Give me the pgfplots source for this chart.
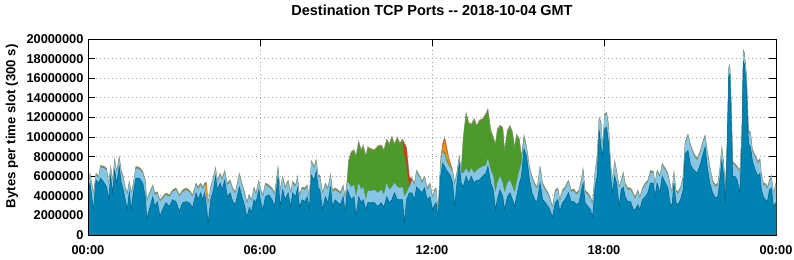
\documentclass[border=0pt]{standalone}
\usepackage{pgfplots}
\pgfplotsset{compat=1.18}
\usepackage{pgfplotstable}
\usepackage{fontspec}
\setmainfont{Liberation Sans}
\definecolor{cDark}{RGB}{0,131,178}
\definecolor{cDarkEdge}{RGB}{0,95,135}
\definecolor{cLight}{RGB}{136,196,228}
\definecolor{cGreen}{RGB}{76,154,44}
\definecolor{cOrange}{RGB}{242,142,20}
\definecolor{cRed}{RGB}{208,58,16}
\definecolor{cTop}{RGB}{135,128,70}
\definecolor{cTopLine}{RGB}{150,150,150}
\definecolor{cGrid}{RGB}{160,160,160}

% h = hour of day, D = dark blue top, L = light blue top, G = green top, T = total (millions of bytes)
\pgfplotstableread{
h D L G T
0.00 4.3 4.7 4.7 4.9
0.07 5.3 6.1 6.1 6.3
0.19 2.6 4.1 4.1 4.3
0.28 5.6 6.1 6.1 6.3
0.37 5.3 5.8 5.8 6.0
0.44 5.8 6.9 6.9 7.1
0.57 5.3 6.8 6.8 7.0
0.65 4.9 6.6 6.6 6.8
0.72 3.6 5.1 5.1 5.3
0.79 6.0 6.8 6.8 7.0
0.86 4.3 5.4 5.4 5.6
0.93 6.6 7.6 7.6 7.8
1.00 5.3 6.3 6.3 6.5
1.09 7.0 7.8 7.8 8.0
1.16 5.3 6.4 6.4 6.6
1.23 4.6 5.8 5.8 6.0
1.30 3.6 4.7 4.7 4.9
1.37 2.6 4.1 4.1 4.3
1.44 4.4 5.3 5.3 5.5
1.51 2.6 4.1 4.1 4.3
1.58 4.3 5.1 5.1 5.3
1.67 5.8 6.8 6.8 7.0
1.79 5.8 6.7 6.7 6.9
1.91 5.3 6.3 6.3 6.5
2.00 3.9 5.4 5.4 5.6
2.05 1.6 3.4 3.4 3.6
2.14 2.6 4.1 4.1 4.3
2.26 3.9 4.9 4.9 5.1
2.33 2.9 4.1 4.1 4.3
2.42 3.4 4.2 4.2 4.4
2.51 1.9 3.4 3.4 3.6
2.60 2.6 3.7 3.7 3.9
2.72 3.3 4.1 4.1 4.3
2.84 2.9 3.9 3.9 4.1
2.95 3.6 4.4 4.4 4.6
3.07 3.4 4.6 4.6 4.8
3.19 2.4 3.9 3.9 4.1
3.30 3.3 4.4 4.4 4.6
3.42 3.4 4.6 4.6 4.8
3.53 3.3 4.4 4.4 4.6
3.65 2.8 3.9 3.9 4.1
3.77 4.3 5.1 5.1 5.3
3.84 3.6 4.7 4.7 4.9
3.93 4.3 5.1 5.1 5.3
4.00 3.6 4.7 4.7 4.9
4.07 4.3 5.1 5.1 5.3
4.13 3.0 3.8 3.8 5.4
4.19 1.2 3.1 3.1 3.3
4.28 3.6 4.7 4.7 4.9
4.38 4.6 5.8 5.8 6.0
4.45 6.0 6.7 6.7 6.9
4.51 4.6 5.4 5.4 5.6
4.61 5.3 6.1 6.1 6.3
4.68 4.6 5.6 5.6 5.8
4.77 5.6 6.4 6.4 6.6
4.86 3.9 5.1 5.1 5.3
4.96 4.3 5.4 5.4 5.6
5.05 3.4 4.6 4.6 4.8
5.14 3.1 4.2 4.2 4.4
5.28 4.9 6.1 6.1 6.3
5.37 3.9 5.1 5.1 5.3
5.47 2.9 4.1 4.1 4.3
5.54 1.8 3.2 3.2 3.4
5.63 2.8 3.9 3.9 4.1
5.70 2.3 3.4 3.4 3.6
5.79 3.6 4.7 4.7 4.9
5.86 3.3 4.1 4.1 4.3
5.96 4.6 5.4 5.4 5.6
6.03 3.3 4.4 4.4 4.6
6.10 2.6 3.9 3.9 4.1
6.19 3.9 5.1 5.1 5.3
6.31 4.1 4.9 4.9 5.1
6.42 3.6 4.6 4.6 4.8
6.51 2.9 4.1 4.1 4.3
6.63 6.0 6.8 6.8 7.0
6.70 2.9 4.4 4.4 4.6
6.79 4.6 5.8 5.8 6.0
6.88 3.6 4.7 4.7 4.9
6.98 4.3 5.4 5.4 5.6
7.07 2.9 4.2 4.2 4.4
7.14 4.3 5.3 5.3 5.5
7.24 3.9 4.9 4.9 5.1
7.31 4.8 5.8 5.8 6.0
7.38 2.8 3.9 3.9 4.1
7.47 3.6 4.7 4.7 4.9
7.56 3.4 4.6 4.6 4.8
7.65 3.9 4.9 4.9 5.1
7.72 2.6 3.7 3.7 3.9
7.79 6.1 7.4 7.4 7.6
7.89 5.6 6.8 6.8 7.0
7.96 6.5 7.5 7.5 7.7
8.03 4.8 5.9 5.9 6.1
8.09 4.6 5.9 5.9 6.1
8.18 2.6 4.1 4.1 4.3
8.28 3.9 5.1 5.1 5.3
8.37 3.3 4.6 4.6 4.8
8.46 4.9 6.0 6.0 6.2
8.53 2.9 4.4 4.4 4.6
8.62 3.6 4.6 4.6 4.8
8.72 3.3 4.4 4.4 4.6
8.81 3.1 4.2 4.2 4.4
8.90 3.9 4.9 4.9 5.1
8.97 2.3 3.7 3.7 3.9
9.04 4.6 5.4 5.4 5.6
9.09 4.3 5.3 7.4 7.6
9.18 3.6 4.9 8.3 8.5
9.28 3.9 5.1 8.5 8.7
9.35 1.9 3.9 7.9 8.1
9.44 3.9 5.3 9.4 9.6
9.53 3.3 4.6 8.5 8.7
9.60 3.6 4.9 9.0 9.2
9.69 2.6 3.6 7.9 8.1
9.76 3.3 4.5 8.8 9.0
9.88 3.3 4.5 8.6 8.8
9.99 3.3 4.6 8.5 8.7
10.11 2.9 4.3 8.9 9.1
10.23 3.3 4.6 9.0 9.2
10.32 2.8 4.1 8.5 8.7
10.42 3.9 5.3 9.6 9.8
10.51 3.3 4.6 9.1 9.3
10.60 3.6 4.9 9.9 10.1
10.69 4.3 5.3 9.1 9.3
10.79 3.6 4.9 9.8 10.0
10.88 3.6 4.8 9.2 9.4
10.97 3.6 4.9 9.6 9.8
11.04 1.2 3.9 8.0 9.4
11.11 3.6 4.3 7.0 9.0
11.21 4.3 4.9 4.9 6.0
11.30 4.3 5.6 5.6 5.8
11.39 3.6 5.1 5.1 5.3
11.46 4.9 6.4 6.4 6.6
11.56 4.6 5.9 5.9 6.1
11.65 4.3 5.3 5.3 5.5
11.74 4.8 5.8 5.8 6.0
11.83 3.6 4.6 4.6 4.8
11.93 3.9 5.1 5.1 5.3
12.02 2.6 3.7 3.7 3.9
12.08 3.0 4.4 4.4 4.6
12.14 3.3 4.6 4.6 4.8
12.21 1.9 2.4 2.4 2.6
12.30 6.0 7.4 7.4 7.6
12.37 7.3 8.5 8.6 9.3
12.44 7.0 8.2 8.4 10.0
12.51 6.6 7.5 7.8 9.0
12.58 6.3 7.1 7.3 8.0
12.65 6.0 6.8 6.9 7.3
12.72 5.3 6.4 6.4 6.6
12.79 2.9 5.1 5.1 5.3
12.88 5.6 6.4 6.4 6.6
12.95 7.3 7.9 7.9 8.1
13.02 5.3 6.4 6.4 6.6
13.09 4.9 6.3 9.8 10.0
13.19 6.0 6.8 12.3 12.5
13.28 5.3 6.3 11.3 11.5
13.37 6.0 6.8 11.1 11.3
13.47 5.3 6.3 11.7 11.9
13.56 5.6 6.6 11.0 11.2
13.65 5.6 6.8 11.5 11.7
13.77 6.0 7.0 11.7 11.9
13.88 6.3 7.1 12.2 12.4
13.95 7.0 7.8 12.7 12.9
14.05 5.3 6.6 10.5 10.7
14.14 4.6 6.0 9.8 10.0
14.21 2.6 4.3 9.1 9.3
14.28 3.6 5.3 10.6 10.8
14.37 4.6 6.0 11.0 11.2
14.47 3.9 5.3 10.8 11.0
14.53 2.6 4.3 8.5 8.7
14.63 3.9 5.3 10.5 10.7
14.72 4.3 5.6 11.0 11.2
14.81 3.6 4.9 10.3 10.5
14.88 2.9 4.3 8.8 9.0
14.95 3.9 5.3 10.1 10.3
15.05 5.3 6.6 9.6 9.8
15.12 6.0 7.3 7.8 8.0
15.21 8.8 9.8 10.0 10.2
15.30 8.0 8.8 8.8 9.0
15.40 5.6 6.8 6.8 7.0
15.49 4.3 5.8 5.8 6.0
15.58 3.6 5.1 5.1 5.3
15.67 3.4 4.7 4.7 4.9
15.77 5.3 6.8 6.8 7.0
15.86 3.6 5.1 5.1 5.3
15.95 3.3 4.6 4.6 4.8
16.05 2.9 4.1 4.1 4.3
16.11 2.6 3.7 3.7 3.9
16.20 1.8 2.7 2.7 2.9
16.30 3.3 4.4 4.4 4.6
16.39 3.6 4.6 4.6 4.8
16.46 2.4 3.4 3.4 3.6
16.55 3.3 4.4 4.4 4.6
16.64 3.6 4.7 4.7 4.9
16.76 4.3 5.4 5.4 5.6
16.85 3.4 4.4 4.4 4.6
16.95 3.4 4.5 4.5 4.7
17.04 3.1 4.1 4.1 4.3
17.13 3.3 4.4 4.4 4.6
17.23 4.8 5.8 5.8 6.0
17.27 5.3 6.6 6.6 6.8
17.34 3.3 4.4 4.4 4.6
17.44 2.9 4.1 4.1 4.3
17.53 2.6 3.7 3.7 3.9
17.60 1.8 3.1 3.1 3.3
17.69 4.9 6.4 6.4 6.6
17.76 6.0 7.8 7.8 8.0
17.83 10.7 11.8 11.8 12.0
17.90 9.0 11.3 11.3 11.5
17.95 8.0 8.8 8.8 9.0
18.02 10.8 12.2 12.2 12.4
18.09 11.0 12.3 12.3 12.5
18.16 9.3 11.1 11.1 11.3
18.23 6.0 7.1 7.1 7.3
18.30 4.3 5.4 5.4 5.6
18.37 6.0 7.4 7.4 7.6
18.44 5.3 6.4 6.4 6.6
18.53 2.9 4.7 4.7 4.9
18.60 4.6 5.4 5.4 5.6
18.67 4.9 6.2 6.2 6.4
18.74 3.9 5.1 5.1 5.3
18.83 3.4 4.6 4.6 4.8
18.93 3.4 4.6 4.6 4.8
19.02 2.6 4.1 4.1 4.3
19.09 2.6 3.7 3.7 3.9
19.18 3.1 4.4 4.4 4.6
19.25 2.6 3.7 3.7 3.9
19.34 3.6 4.6 4.6 4.8
19.44 3.9 5.1 5.1 5.3
19.53 4.3 5.4 5.4 5.6
19.62 5.3 6.4 6.4 6.6
19.72 5.3 6.3 6.3 6.5
19.78 3.9 5.1 5.1 5.3
19.85 5.3 6.4 6.4 6.6
19.95 4.3 5.9 5.9 6.1
20.03 6.0 7.1 7.1 7.3
20.14 5.3 6.6 6.6 6.8
20.23 4.8 6.1 6.1 6.3
20.30 3.3 5.1 5.1 5.3
20.37 2.9 4.2 4.2 4.4
20.44 5.3 6.3 6.3 6.5
20.51 3.3 4.4 4.4 4.6
20.58 3.1 4.2 4.2 4.4
20.67 3.6 4.7 4.7 4.9
20.76 4.6 5.8 5.8 6.0
20.83 8.3 9.3 9.3 9.5
20.93 8.6 10.1 10.1 10.3
21.02 7.1 9.0 9.0 9.2
21.14 6.6 8.1 8.1 8.3
21.25 6.3 7.6 7.6 7.8
21.37 7.3 8.5 8.5 8.7
21.46 8.3 9.5 9.5 9.7
21.53 9.0 10.0 10.0 10.2
21.60 7.0 8.5 8.5 8.7
21.69 5.3 6.8 6.8 7.0
21.79 4.3 5.4 5.4 5.6
21.88 3.8 4.9 4.9 5.1
21.97 3.9 5.1 5.1 5.3
22.04 5.6 6.6 6.6 6.8
22.11 7.6 8.8 8.8 9.0
22.18 6.0 7.1 7.1 7.3
22.23 3.3 4.4 4.4 4.6
22.30 9.0 9.8 9.8 10.0
22.35 16.1 16.9 16.9 17.1
22.39 16.4 17.2 17.2 17.4
22.44 11.3 13.2 13.2 13.4
22.49 6.0 7.3 7.3 7.5
22.56 6.0 7.1 7.1 7.3
22.65 5.6 6.8 6.8 7.0
22.74 4.3 6.4 6.4 6.6
22.81 9.3 10.5 10.5 10.7
22.86 17.7 18.7 18.7 18.9
22.90 17.4 18.4 18.4 18.6
22.97 15.1 16.2 16.2 16.4
23.04 9.3 10.5 10.5 10.7
23.11 9.0 10.3 10.3 10.5
23.18 7.5 8.5 8.5 8.7
23.28 6.6 7.9 7.9 8.1
23.37 6.0 7.3 7.3 7.5
23.44 6.3 7.6 7.6 7.8
23.49 4.6 6.1 6.1 6.3
23.56 3.9 5.1 5.1 5.3
23.63 3.6 5.1 5.1 5.3
23.70 3.4 4.7 4.7 4.9
23.77 4.6 5.4 5.4 5.6
23.84 4.8 5.9 5.9 6.1
23.91 2.9 4.1 4.1 4.3
24.00 3.3 5.1 5.1 5.3
}\data

% red layer top (cumulative), first burst
\pgfplotstableread{
h R
10.97 9.6
11.04 9.2
11.11 8.8
11.21 5.8
11.30 5.6
}\redA
% red layer top (cumulative), second burst
\pgfplotstableread{
h R
12.30 7.4
12.37 9.2
12.44 9.8
12.51 8.9
12.58 7.8
12.65 7.1
12.72 6.4
}\redB
% orange layer top (cumulative)
\pgfplotstableread{
h O
4.07 5.1
4.13 5.2
4.19 3.1
}\orangeA
\pgfplotstableread{
h O
12.30 7.4
12.37 9.0
12.44 9.6
12.51 8.7
12.58 7.8
12.65 7.1
12.72 6.4
}\orangeB

\begin{document}
\begin{tikzpicture}
\useasboundingbox (0,0) rectangle (794bp,260bp);
\begin{axis}[
  at={(88bp,25bp)}, anchor=south west,
  width=688bp, height=196bp, scale only axis,
  xmin=0, xmax=24, ymin=0, ymax=20,
  xtick={0,6,12,18,24},
  xticklabels={00:00,06:00,12:00,18:00,00:00},
  ytick={0,2,4,6,8,10,12,14,16,18,20},
  yticklabels={0,2000000,4000000,6000000,8000000,10000000,12000000,14000000,16000000,18000000,20000000},
  tick align=inside, major tick length=7bp,
  tick style={black, line width=0.8bp},
  xtick pos=both, ytick pos=both,
  ticklabel style={font=\fontsize{12.8bp}{14bp}\selectfont\bfseries},
  yticklabel style={xshift=-1bp},
  xticklabel style={yshift=-7bp},
  grid=major,
  major grid style={cGrid, line width=0.6bp, dash pattern=on 0.8bp off 3.2bp},
  axis line style={black, line width=0.8bp},
  every axis y label/.style={at={(axis description cs:-0.1105,0.555)}, rotate=90, anchor=center, font=\fontsize{13.2bp}{14bp}\selectfont\bfseries},
  ylabel={Bytes per time slot (300 s)},
  every axis title/.style={at={(axis description cs:0.5,1)}, anchor=center, yshift=28.7bp, font=\fontsize{14.5bp}{16bp}\selectfont\bfseries},
  title={Destination TCP Ports -{}- 2018-10-04 GMT},
]
\addplot[fill=cTop, draw=cTopLine, line width=0.5bp] table[x=h,y=T]{\data} \closedcycle;
\addplot[fill=cRed, draw=none] table[x=h,y=R]{\redA} \closedcycle;
\addplot[fill=cRed, draw=none] table[x=h,y=R]{\redB} \closedcycle;
\addplot[fill=cOrange, draw=none] table[x=h,y=O]{\orangeA} \closedcycle;
\addplot[fill=cOrange, draw=none] table[x=h,y=O]{\orangeB} \closedcycle;
\addplot[fill=cGreen, draw=none] table[x=h,y=G]{\data} \closedcycle;
\addplot[fill=cLight, draw=none] table[x=h,y=L]{\data} \closedcycle;
\addplot[fill=cDark, draw=cDarkEdge, line width=0.5bp] table[x=h,y=D]{\data} \closedcycle;
\draw[black, line width=0.8bp] (rel axis cs:0,0) rectangle (rel axis cs:1,1);
\end{axis}
\end{tikzpicture}
\end{document}
